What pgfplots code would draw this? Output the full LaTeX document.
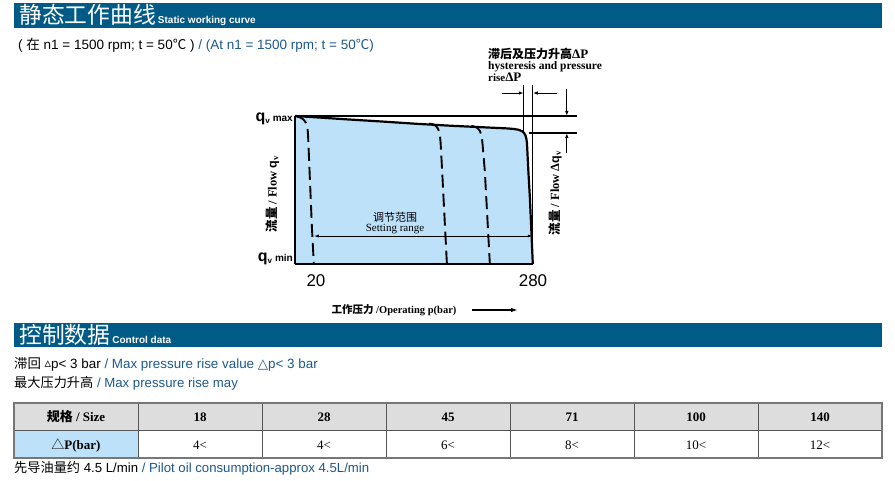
\documentclass[border=0pt]{standalone}
\usepackage{pgfplots}
\pgfplotsset{compat=1.18}
\usetikzlibrary{arrows.meta}
\usepackage{fontspec}
\setmainfont{Liberation Serif}
\setsansfont{Liberation Sans}
\newfontfamily\cjk{Noto Sans CJK SC}
\newfontfamily\dv{DejaVu Sans}
\definecolor{hdr}{RGB}{2,90,135}
\definecolor{tblue}{RGB}{28,88,140}
\definecolor{fillb}{RGB}{189,225,249}
\definecolor{tgray}{RGB}{221,221,221}
\definecolor{tline}{RGB}{85,85,85}
\newcommand\fs[1]{\fontsize{#1pt}{#1pt}\selectfont}

\begin{document}
\begin{tikzpicture}
\path[use as bounding box] (0pt,0pt) rectangle (895pt,-481pt);

% ---------------- chart -----------------
\begin{axis}[at={(295.3pt,-264pt)}, anchor=south west, scale only axis,
  width=281.3pt, height=180.56pt, xmin=-2, xmax=332, ymin=0, ymax=122,
  hide axis, clip=false]
% filled working area
\addplot[fill=fillb, draw=none] coordinates {
 (-2,100) (20,99.2) (60,97.7) (100,96.3) (140,94.8) (180,93.5) (220,92.4)
 (250,91.6) (258,91.2) (263,90.7) (267,89.8) (269.5,88.6) (271.3,86.8)
 (272.4,84.5) (273,82) (273.4,78) (274.5,65) (276.5,45) (278.3,22) (280,0)
 (-2,0)} -- cycle;
% axes and qmax reference line
\addplot[black, line width=1.7pt] coordinates {(-2,0) (-2,100)};
\addplot[black, line width=1.7pt] coordinates {(-2,0) (280,0)};
\addplot[black, line width=1.5pt] coordinates {(-2,100) (332,100)};
% main characteristic
\addplot[black, line width=2.2pt, line join=round] coordinates {
 (-2,100) (20,99.2) (60,97.7) (100,96.3) (140,94.8) (180,93.5) (220,92.4)
 (250,91.6) (258,91.2) (263,90.7) (267,89.8) (269.5,88.6) (271.3,86.8)
 (272.4,84.5) (273,82) (273.4,78) (274.5,65) (276.5,45) (278.3,22) (280,0)};
% dashed characteristics
\addplot[black, line width=1.9pt, dash pattern=on 13pt off 6pt, line join=round] coordinates {
 (-1.5,99.9) (3,99.2) (7,98) (10,96) (11.8,93.5) (12.8,90) (13.3,85) (15.5,55) (17.7,25) (20,0)};
\addplot[black, line width=1.9pt, dash pattern=on 13pt off 6pt, line join=round] coordinates {
 (157,94.9) (161,94.5) (164.5,93.5) (167,91.8) (168.8,89.5) (169.8,86.5) (170.5,82) (172.3,63.5) (178,0)};
\addplot[black, line width=1.9pt, dash pattern=on 13pt off 6pt, line join=round] coordinates {
 (207,93.3) (211,92.8) (214.5,91.8) (217,90) (218.8,87.5) (219.7,84.5) (220.5,80) (223,63) (229,0)};
% hysteresis annotation lines
\addplot[black, line width=1.2pt] coordinates {(280,0) (280,121)};
\addplot[black, line width=1.2pt] coordinates {(269.3,88.8) (269.3,121)};
\addplot[black, line width=1.2pt] coordinates {(276,88.5) (332,88.5)};
\draw[-{Latex[length=5pt,width=3.5pt]}, line width=1pt] (axis cs:243,115.5) -- (axis cs:269.3,115.5);
\draw[-{Latex[length=5pt,width=3.5pt]}, line width=1pt] (axis cs:308.5,115.5) -- (axis cs:280,115.5);
\draw[-{Latex[length=5pt,width=3.5pt]}, line width=1pt] (axis cs:320.4,118.5) -- (axis cs:320.4,100);
\draw[-{Latex[length=5pt,width=3.5pt]}, line width=1pt] (axis cs:320.4,75) -- (axis cs:320.4,88.5);
% setting range
\draw[{Latex[length=5pt,width=3pt]}-{Latex[length=5pt,width=3pt]}, line width=0.8pt] (axis cs:20,18.9) -- (axis cs:280,18.9);
\end{axis}

\begin{scope}[x=1pt,y=-1pt]
% ---------------- header 1 -----------------
\fill[hdr] (14,3) rectangle (882,28);
\node[anchor=base west,inner sep=0,text=white] at (19,24)
  {{\cjk\fs{22.8}静态工作曲线}\hspace{2pt}{\sffamily\bfseries\fs{10}Static working curve}};
\node[anchor=base west,inner sep=0] at (18,50)
  {\sffamily\fs{13.5}( {\cjk 在} n1 = 1500 rpm; t = 50{\cjk ℃} ) \textcolor{tblue}{/ (At n1 = 1500 rpm; t = 50{\cjk ℃})}};

% ---------------- chart labels -----------------
\node[anchor=base east,inner sep=0] at (293,122)
  {{\sffamily\bfseries\fs{16}q}\raisebox{-1.5pt}{\sffamily\bfseries\fs{8}v}\hspace{3pt}{\sffamily\bfseries\fs{10}max}};
\node[anchor=base east,inner sep=0] at (293,262)
  {{\sffamily\bfseries\fs{16}q}\raisebox{-1.5pt}{\sffamily\bfseries\fs{8}v}\hspace{3pt}{\sffamily\bfseries\fs{10}min}};
\node[anchor=base,inner sep=0] at (316,286.5) {\sffamily\fs{17}20};
\node[anchor=base,inner sep=0] at (533,286.5) {\sffamily\fs{17}280};
\node[rotate=90,inner sep=0] at (272.5,194)
  {\bfseries\fs{12.5}{\cjk\bfseries 流量} / Flow {\sffamily q}\textsubscript{v}};
\node[rotate=90,inner sep=0] at (555,193)
  {\bfseries\fs{12.5}{\cjk\bfseries 流量} / Flow Δ{\sffamily q}\textsubscript{v}};
\node[anchor=base west,inner sep=0] at (488,59)
  {{\cjk\bfseries\fs{12}滞后及压力升高}{\bfseries\fs{13}ΔP}};
\node[anchor=base west,inner sep=0] at (488,70)
  {\bfseries\fs{11.5}hysteresis and pressure};
\node[anchor=base west,inner sep=0] at (488,82)
  {{\bfseries\fs{11}rise}{\bfseries\fs{13}ΔP}};
\node[anchor=base,inner sep=0] at (395,221.5) {\cjk\fs{11}调节范围};
\node[anchor=base,inner sep=0] at (395,232) {\fs{11}Setting range};
\node[anchor=base,inner sep=0] at (394,314)
  {{\cjk\bfseries\fs{10.5}工作压力}{\bfseries\fs{10.5} /Operating p(bar)}};
\draw[line width=1.6pt, -{Latex[length=7pt,width=4.5pt]}] (472,310) -- (518,310);

% ---------------- header 2 -----------------
\fill[hdr] (14,323) rectangle (882,347);
\node[anchor=base west,inner sep=0,text=white] at (19,344)
  {{\cjk\fs{22.8}控制数据}\hspace{2pt}{\sffamily\bfseries\fs{10}Control data}};
\node[anchor=base west,inner sep=0] at (14,368.5)
  {\sffamily\fs{13.4}{\cjk 滞回} \raisebox{1.5pt}{\dv\fs{13}▵}p< 3 bar \textcolor{tblue}{/ Max pressure rise value {\dv △}p< 3 bar}};
\node[anchor=base west,inner sep=0] at (14,387)
  {\sffamily\fs{13.2}{\cjk 最大压力升高} \textcolor{tblue}{/ Max pressure rise may}};

% ---------------- table -----------------
\fill[tgray] (14,403) rectangle (882,430);
\fill[fillb] (14,430) rectangle (138,458);
\foreach \x in {138,262,386,510,634,758} \draw[tline, line width=1pt] (\x,403) -- (\x,458);
\draw[tline, line width=1pt] (14,430) -- (882,430);
\draw[tline!80, line width=1.5pt] (14,403) rectangle (882,458);
\node[anchor=base,inner sep=0] at (76,421.7) {\fs{13}{\cjk\bfseries 规格}\bfseries\ / Size};
\foreach \x/\t in {200/18,324/28,448/45,572/71,696/100,820/140}
  \node[anchor=base,inner sep=0] at (\x,421.7) {\bfseries\fs{13}\t};
\node[anchor=base,inner sep=0] at (76,449.3) {\fs{13}{\cjk △}\bfseries P(bar)};
\foreach \x/\t in {200/4,324/4,448/6,572/8,696/10,820/12}
  \node[anchor=base,inner sep=0] at (\x,449.3) {\fs{13}\t<};
\node[anchor=base west,inner sep=0] at (14,472)
  {\sffamily\fs{13.2}{\cjk 先导油量约} 4.5 L/min \textcolor{tblue}{/ Pilot oil consumption-approx 4.5L/min}};
\end{scope}
\end{tikzpicture}
\end{document}
